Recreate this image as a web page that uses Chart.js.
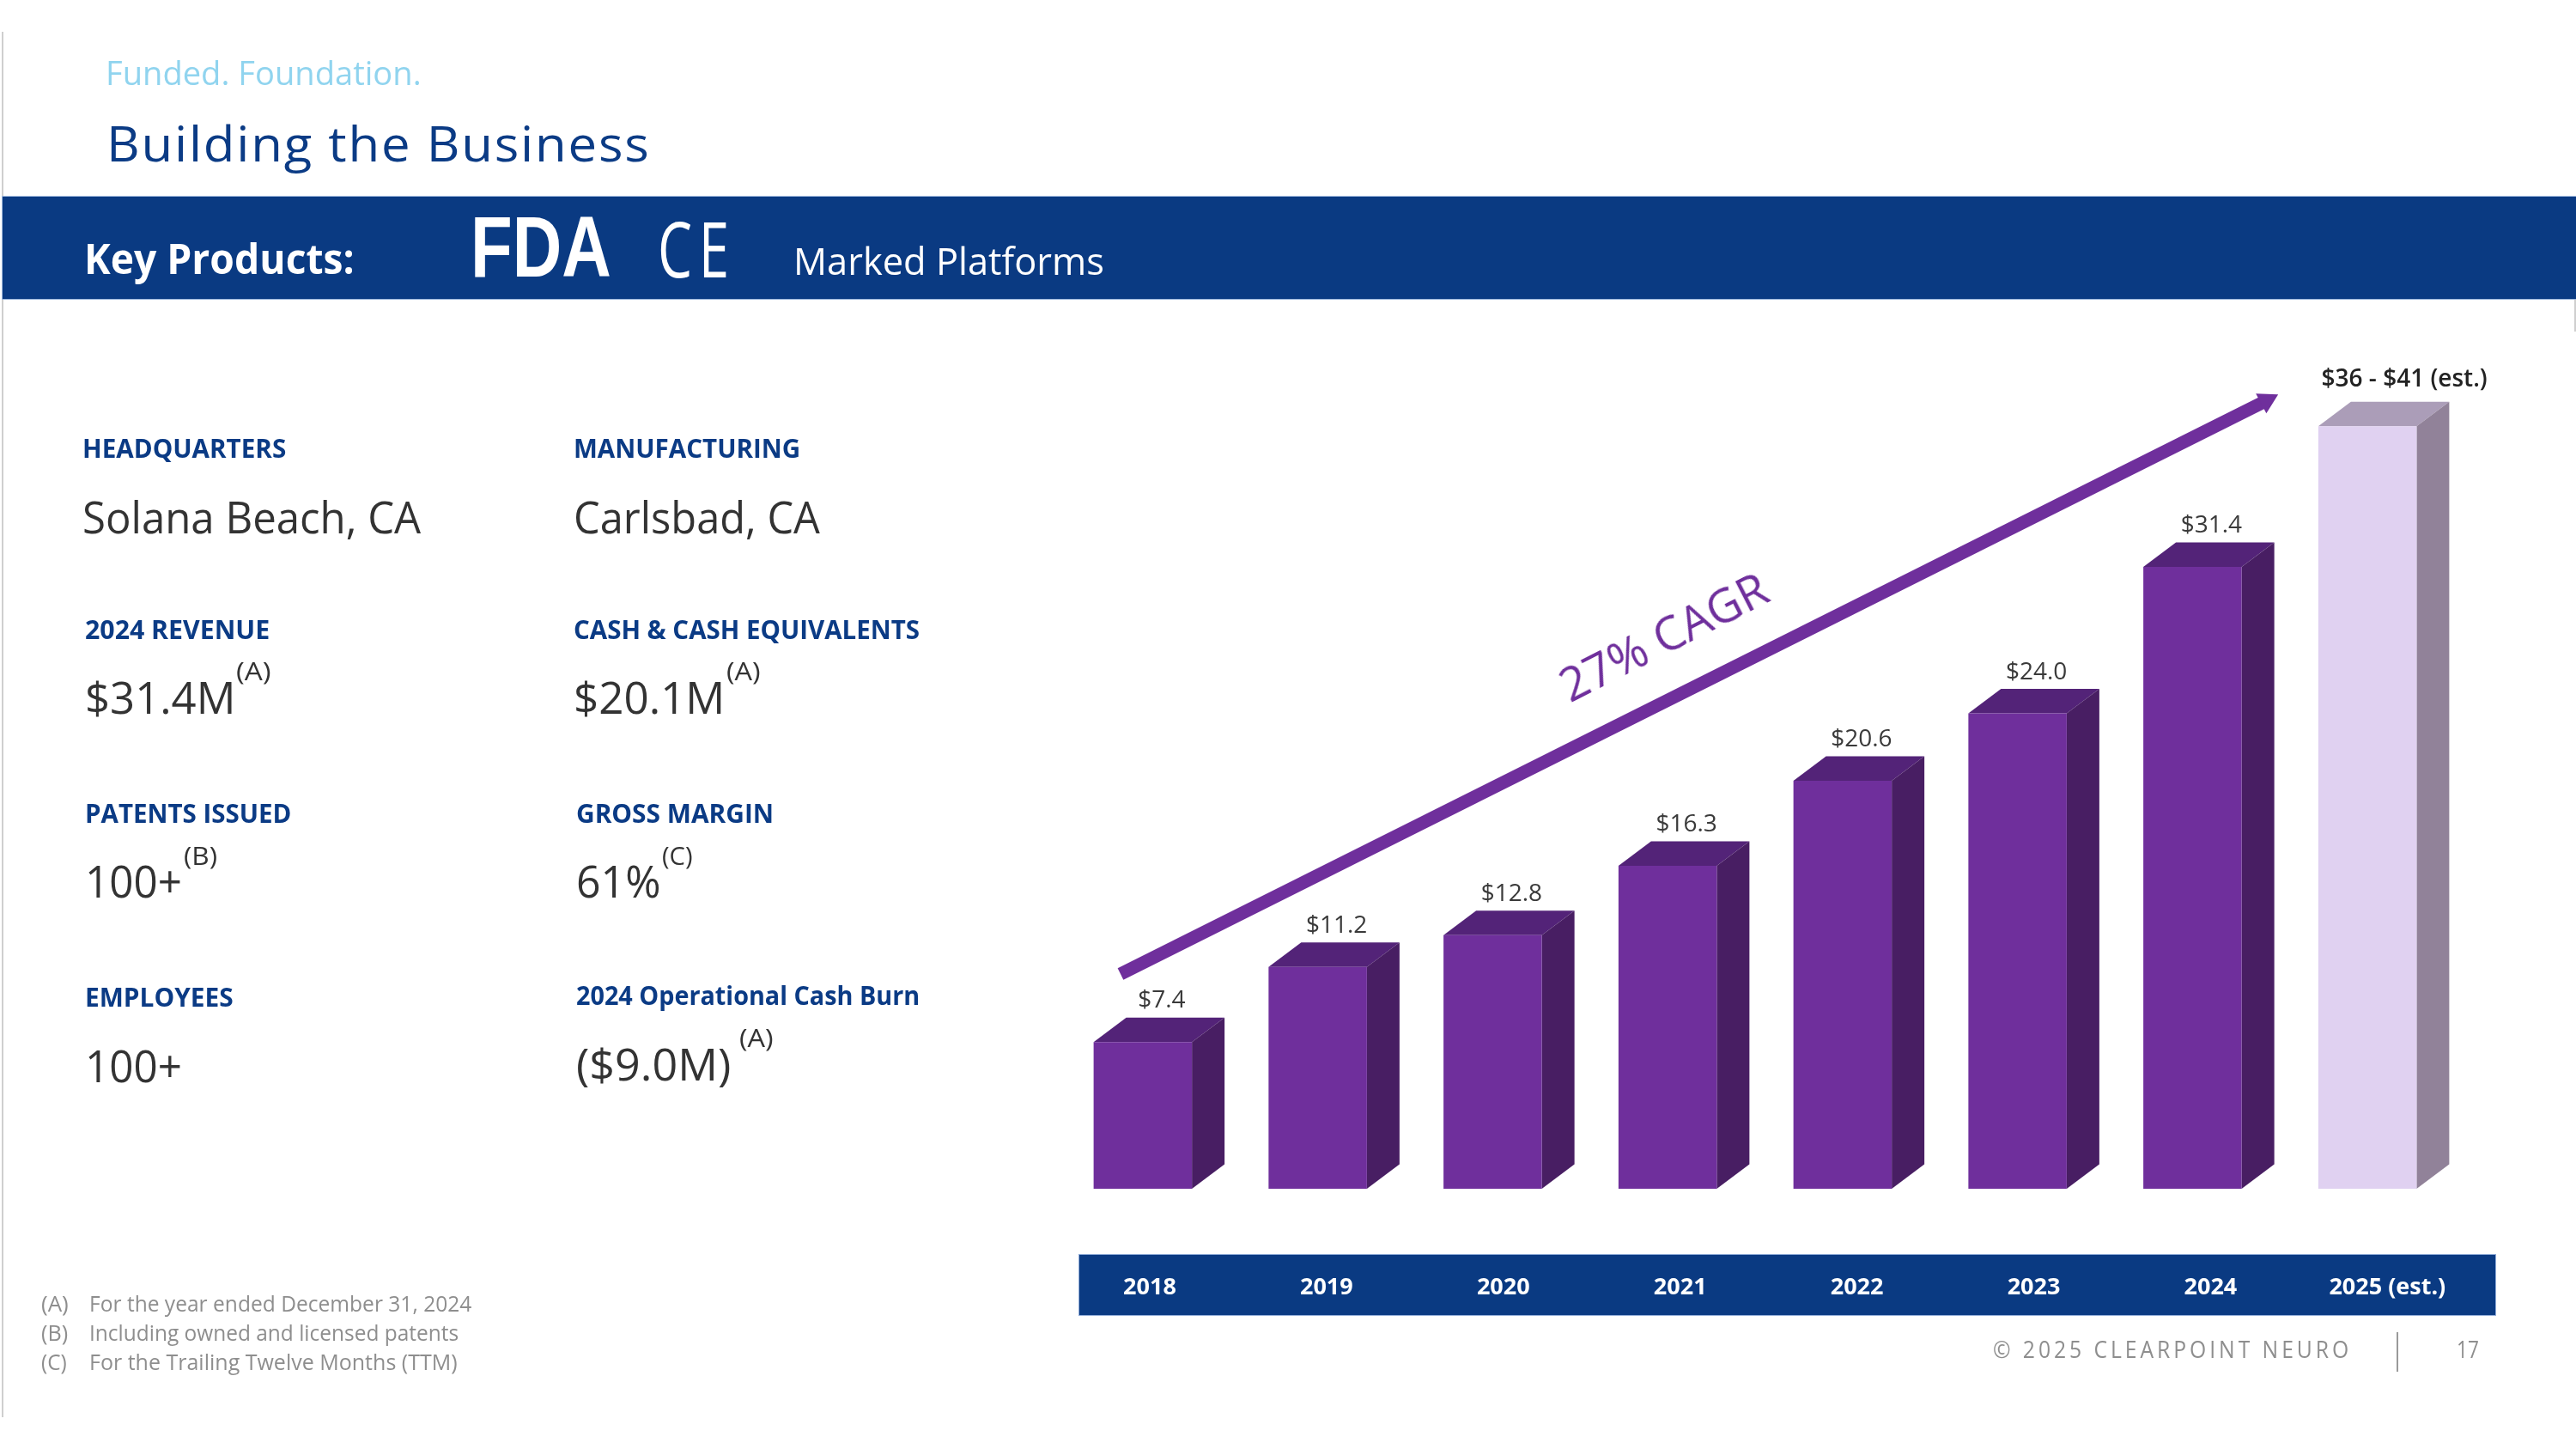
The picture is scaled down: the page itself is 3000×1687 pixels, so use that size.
<!DOCTYPE html>
<html><head><meta charset="utf-8">
<script src="https://cdn.jsdelivr.net/npm/chart.js@4/dist/chart.umd.min.js"></script>
<style>
html,body{margin:0;padding:0;background:#fff;width:3000px;height:1687px;overflow:hidden}
#stage{position:relative;width:3000px;height:1687px;overflow:hidden}
.box{position:absolute}
.t{position:absolute;white-space:pre;line-height:1;font-family:"Open Sans",sans-serif}
canvas{position:absolute;left:0;top:0}
</style></head><body>
<div id="stage">
<div class="box" style="left:2px;top:37px;width:2px;height:1613px;background:#cfcfcf"></div>
<div class="box" style="left:2998px;top:348px;width:2px;height:38px;background:#cfcfcf"></div>
<div class="box" style="left:3px;top:229px;width:2997px;height:119px;background:#0a3a82;box-shadow:0 0 0 1px #9db7dc"></div>
<div class="box" style="left:1257px;top:1461px;width:1649px;height:70px;background:#0a3a82;box-shadow:0 0 0 1px #8fabd8"></div>
<div class="box" style="left:2791px;top:1551px;width:2px;height:46px;background:#9a9a9a"></div>
<canvas id="c" width="3000" height="1687"></canvas>
</div>
<script>
const years = ["2018","2019","2020","2021","2022","2023","2024","2025 (est.)"];
const revenue = [7.4,11.2,12.8,16.3,20.6,24.0,31.4,38.5];
const valueLabels = ["$7.4","$11.2","$12.8","$16.3","$20.6","$24.0","$31.4","$36 - $41 (est.)"];
const trendX = [-0.165,6.318];
const trendY = [10.84,39.8];
const frontColors = ["#6f2f9c","#6f2f9c","#6f2f9c","#6f2f9c","#6f2f9c","#6f2f9c","#6f2f9c","#e0d1f1"];
const topColors = ["#532378","#532378","#532378","#532378","#532378","#532378","#532378","#ab9db8"];
const sideColors = ["#481e63","#481e63","#481e63","#481e63","#481e63","#481e63","#481e63","#918299"];

const NAVY="#0b3b85", INK="#333333", GREY="#8e8e8e";
// text, x, centre y, font size, colour, weight, target width
const texts = [
 ["Funded. Foundation.",123,85,38,"#90d4ef",400,368],
 ["Building the Business",124,168,56,NAVY,400,634,"0.03em"],
 ["Key Products:",98,302,48,"#ffffff",700,315],
 ["Marked Platforms",924,304,44,"#ffffff",400,362],
 ["HEADQUARTERS",96,523,30,NAVY,700,237],
 ["MANUFACTURING",668,523,30,NAVY,700,264],
 ["Solana Beach, CA",96,603,52,INK,400,394],
 ["Carlsbad, CA",668,603,52,INK,400,287],
 ["2024 REVENUE",99,734,30,NAVY,700,215],
 ["CASH & CASH EQUIVALENTS",668,734,30,NAVY,700,403],
 ["$31.4M",99,813,52,INK,400,175],
 ["(A)",275,782,30,INK,400,41],
 ["$20.1M",668,813,52,INK,400,176],
 ["(A)",846,782,30,INK,400,40],
 ["PATENTS ISSUED",99,948,30,NAVY,700,240],
 ["GROSS MARGIN",671,948,30,NAVY,700,230],
 ["100+",99,1027,52,INK,400,113],
 ["(B)",214,997,30,INK,400,39],
 ["61%",671,1027,52,INK,400,98],
 ["(C)",771,997,30,INK,400,36],
 ["EMPLOYEES",99,1162,30,NAVY,700,173],
 ["2024 Operational Cash Burn",671,1160,30,NAVY,700,400],
 ["100+",99,1242,52,INK,400,113],
 ["($9.0M)",671,1240,52,INK,400,180],
 ["(A)",861,1209,30,INK,400,40],
 ["(A)",48,1518,26,GREY,400,32],
 ["For the year ended December 31, 2024",104,1518,26,GREY,400,445],
 ["(B)",48,1552,26,GREY,400,31],
 ["Including owned and licensed patents",104,1552,26,GREY,400,430],
 ["(C)",48,1586,26,GREY,400,30],
 ["For the Trailing Twelve Months (TTM)",104,1586,26,GREY,400,429],
 ["© 2025 CLEARPOINT NEURO",2321,1571,27,GREY,400,418,"0.16em"],
 ["17",2861,1571,27,GREY,400,26]
];
const stage=document.getElementById("stage");
function put(txt,x,cy,size,color,weight,w,ls,family,sy,rot){
  const s=document.createElement("span");
  s.className="t"; s.textContent=txt;
  s.style.left=x+"px"; s.style.top=(cy-size/2-size*0.03)+"px";
  s.style.fontSize=size+"px"; s.style.color=color; s.style.fontWeight=weight;
  if(ls) s.style.letterSpacing=ls;
  if(family) s.style.fontFamily=family;
  stage.appendChild(s);
  const k=w/s.offsetWidth;
  s.style.transformOrigin=rot?"50% 50%":"0 50%";
  s.style.transform=(rot?"rotate("+rot+"deg) ":"")+"scale("+k+","+(sy||1)+")";
  return s;
}
texts.forEach(r=>put(r[0],r[1],r[2],r[3],r[4],r[5],r[6],r[7]));
put("FDA",548,290,70,"#ffffff",700,164,null,'"Liberation Sans",sans-serif',1.42);
put("CE",766,290,72,"#ffffff",400,91,"0.12em",'"Open Sans",sans-serif',1.25);
put("27% CAGR",1806,742,54,"#6f2f9c",400,264,null,null,1,-27);

const faces3d={id:"faces3d",beforeDatasetsDraw(chart,a,o){
  const ctx=chart.ctx, m=chart.getDatasetMeta(0);
  m.data.forEach((b,i)=>{
    const L=b.x-b.width/2,R=b.x+b.width/2,T=b.y,B=b.base;
    ctx.fillStyle=topColors[i];
    ctx.beginPath();ctx.moveTo(L,T);ctx.lineTo(L+o.dx,T-o.dy);ctx.lineTo(R+o.dx,T-o.dy);ctx.lineTo(R,T);ctx.closePath();ctx.fill();
    ctx.fillStyle=sideColors[i];
    ctx.beginPath();ctx.moveTo(R,T);ctx.lineTo(R+o.dx,T-o.dy);ctx.lineTo(R+o.dx,B-o.dy);ctx.lineTo(R,B);ctx.closePath();ctx.fill();
  });
}};
const barLabels={id:"barLabels",afterDatasetsDraw(chart,a,o){
  const ctx=chart.ctx, m=chart.getDatasetMeta(0);
  ctx.save();ctx.textAlign="center";ctx.textBaseline="middle";
  m.data.forEach((b,i)=>{
    const last=i===m.data.length-1;
    ctx.font=(last?"600 ":"400 ")+o.size+'px "Open Sans",sans-serif';
    ctx.fillStyle=last?"#222222":"#3a3a3a";
    ctx.fillText(valueLabels[i],b.x+(last?o.shiftLast:o.shift),b.y-(last?o.riseLast:o.rise));
  });
  ctx.restore();
}};
new Chart(document.getElementById("c"),{
  type:"bar",
  data:{labels:years,datasets:[
    {type:"bar",data:revenue,backgroundColor:frontColors,borderWidth:0,grouped:false,categoryPercentage:1,barPercentage:0.562,xAxisID:"x",yAxisID:"y",order:2},
    {type:"line",data:trendX.map((x,i)=>({x:x,y:trendY[i]})),xAxisID:"x2",yAxisID:"y",borderColor:"#6f2f9c",borderWidth:15,
     pointRadius:[0,15],pointBackgroundColor:"#6f2f9c",pointBorderWidth:0,pointStyle:"triangle",pointRotation:[0,62],fill:false,tension:0,order:1}
  ]},
  options:{
    responsive:false,animation:false,devicePixelRatio:1,
    layout:{padding:{left:1229,right:141,top:231,bottom:0}},
    plugins:{legend:{display:false},tooltip:{enabled:false},
      faces3d:{dx:38,dy:28.5},
      barLabels:{size:28,shift:22,shiftLast:43,rise:48,riseLast:54}},
    scales:{
      x:{type:"category",display:false,offset:true,grid:{display:false}},
      x2:{type:"linear",position:"bottom",offset:false,min:-0.534,max:7.382,
        grid:{display:false,drawTicks:false,offset:false},border:{display:false},
        afterBuildTicks:s=>{s.ticks=years.map((_,i)=>({value:i}));},
        afterFit:s=>{s.height=303;},
        ticks:{autoSkip:false,maxRotation:0,padding:99,color:"#ffffff",
          font:{family:'"Open Sans",sans-serif',size:27,weight:"700"},
          callback:v=>years[v]}},
      y:{display:false,min:0,max:50}
    }
  },
  plugins:[faces3d,barLabels]
});
</script>
</body></html>
